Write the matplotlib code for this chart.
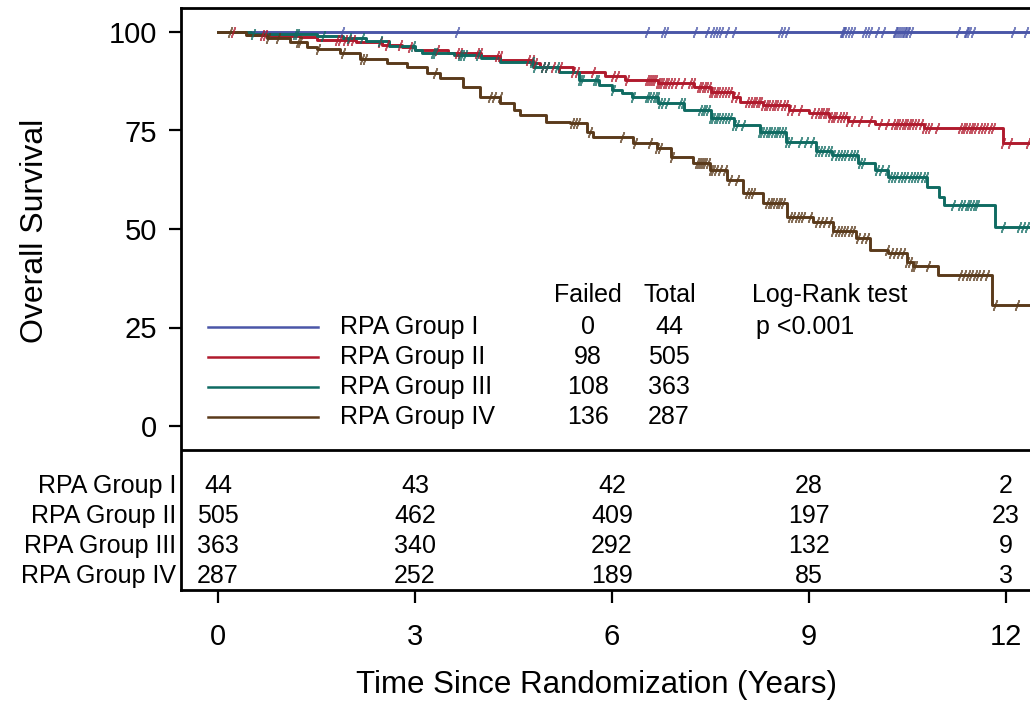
import numpy as np
import matplotlib
matplotlib.use('Agg')
import matplotlib.pyplot as plt

plt.rcParams['font.family'] = ['Liberation Sans', 'DejaVu Sans']

# ---------------- data ----------------
groups = ['RPA Group I', 'RPA Group II', 'RPA Group III', 'RPA Group IV']
colors = ['#4a56a8', '#b01a2d', '#0f6b62', '#5a3a1b']
failed = [0, 98, 108, 136]
total = [44, 505, 363, 287]
risk_times = [0, 3, 6, 9, 12]
at_risk_g1 = [44, 43, 42, 28, 2]
at_risk_g2 = [505, 462, 409, 197, 23]
at_risk_g3 = [363, 340, 292, 132, 9]
at_risk_g4 = [287, 252, 189, 85, 3]
max_followup = 12.5

g1_t = [0]
g1_s = [100]

g2_t = [0, 0.44, 0.8, 1.25, 1.5, 2.1, 2.5, 2.8, 3.0, 3.5, 4.0, 4.3, 4.8, 4.9, 5.4, 5.9,
        6.2, 6.7, 7.25, 7.5, 7.84, 7.95, 8.3, 8.7, 9.0, 9.3, 9.6, 10.0, 10.75, 11.95]
g2_s = [100, 99.3, 99.0, 98.7, 98.0, 97.5, 96.8, 96.2, 95.4, 94.7, 93.8, 92.9, 92.1, 91.1, 89.8, 88.8,
        87.8, 87.0, 86.0, 84.8, 83.6, 82.3, 81.5, 80.2, 79.5, 78.5, 77.4, 76.7, 75.6, 71.8]

g3_t = [0, 0.5, 1.5, 1.9, 2.25, 2.6, 3.0, 3.1, 3.6, 4.0, 4.3, 4.8, 5.2, 5.5, 5.8, 6.0, 6.15,
        6.3, 6.7, 7.1, 7.5, 7.85, 8.25, 8.65, 9.1, 9.35, 9.75, 10.0, 10.2, 10.8, 10.98, 11.05, 11.83]
g3_s = [100, 99.4, 99.0, 98.5, 97.6, 96.5, 95.5, 94.7, 94.2, 93.4, 92.4, 91.1, 89.8, 87.8, 86.5, 85.3, 84.5,
        83.5, 82.0, 80.2, 78.2, 76.4, 74.6, 72.1, 69.8, 68.8, 66.7, 65.0, 63.2, 60.7, 58.1, 56.1, 50.5]

g4_t = [0, 0.42, 0.75, 1.1, 1.35, 1.5, 1.86, 2.16, 2.57, 2.88, 3.18, 3.38, 3.73, 3.99, 4.3, 4.5,
        4.6, 5.0, 5.36, 5.62, 5.71, 6.32, 6.68, 6.9, 7.23, 7.49, 7.75, 8.0, 8.3, 8.66, 9.06, 9.37,
        9.72, 9.93, 10.2, 10.49, 10.58, 10.96, 11.78]
g4_s = [100, 99.2, 98.5, 97.5, 96.2, 95.7, 94.7, 93.1, 92.1, 91.1, 89.6, 88.3, 86.0, 83.5, 82.0, 80.2,
        78.9, 77.2, 76.9, 74.6, 73.3, 71.8, 70.5, 68.3, 66.7, 65.0, 62.4, 59.1, 56.6, 53.0, 51.8, 49.6,
        47.7, 44.7, 43.9, 41.6, 40.6, 38.3, 30.7]

g1_cens = [1.89, 3.64, 6.53, 6.78, 6.82, 7.26, 7.44, 7.52, 7.57, 7.62, 7.66, 7.75, 7.85, 8.56, 8.60,
           8.66, 9.50, 9.52, 9.54, 9.58, 9.62, 9.67, 9.83, 9.88, 9.93, 10.03, 10.13, 10.31, 10.33,
           10.36, 10.39, 10.41, 10.44, 10.46, 10.49, 10.51, 10.56, 11.27, 11.39, 11.41, 11.43, 11.50,
           12.11, 12.30]

g2_cens = [0.23, 0.67, 0.72, 1.81, 1.86, 1.93, 2.0, 2.06, 2.47, 2.57, 2.77, 2.92, 3.33, 3.64, 3.69,
           3.94, 3.99, 4.25, 4.29, 4.72, 4.78, 4.83, 4.95, 5.01, 5.1, 5.21, 5.41, 5.47, 5.71, 6.02,
           6.08, 6.23, 6.53, 6.56, 6.60, 6.63, 6.66, 6.70, 6.73, 6.76, 6.80, 6.84, 6.88, 6.93, 6.99,
           7.08, 7.18, 7.23, 7.33, 7.36, 7.40, 7.43, 7.47, 7.50, 7.54, 7.58, 7.62, 7.66, 7.70, 7.75,
           7.80, 7.84, 7.90, 8.06, 8.10, 8.14, 8.18, 8.22, 8.26, 8.30, 8.34, 8.38, 8.42, 8.46, 8.50,
           8.55, 8.60, 8.65, 8.70, 8.75, 8.86, 9.06, 9.12, 9.16, 9.20, 9.24, 9.28, 9.32, 9.36, 9.40,
           9.45, 9.50, 9.55, 9.60, 9.67, 9.78, 9.93, 10.08, 10.19, 10.28, 10.32, 10.36, 10.40, 10.44,
           10.48, 10.52, 10.56, 10.60, 10.65, 10.70, 10.75, 10.80, 10.84, 10.95, 11.30, 11.34, 11.38,
           11.42, 11.46, 11.50, 11.55, 11.60, 11.65, 11.70, 11.75, 11.80, 11.95, 12.06, 12.33]

g3_cens = [0.53, 1.17, 1.2, 1.6, 2.0, 2.2, 2.47, 2.97, 3.27, 3.3, 3.69, 3.72, 3.76, 3.96, 4.78, 4.83,
           4.95, 5.01, 5.16, 5.51, 5.54, 5.74, 5.77, 6.02, 6.32, 6.53, 6.57, 6.61, 6.65, 6.69, 6.73,
           6.78, 6.84, 7.03, 7.08, 7.34, 7.38, 7.42, 7.46, 7.50, 7.54, 7.58, 7.62, 7.66, 7.70, 7.75,
           7.80, 7.85, 7.90, 8.0, 8.25, 8.29, 8.33, 8.37, 8.41, 8.45, 8.49, 8.53, 8.57, 8.62, 8.66,
           8.71, 8.86, 8.95, 9.05, 9.12, 9.17, 9.22, 9.27, 9.32, 9.37, 9.42, 9.47, 9.52, 9.57, 9.62,
           9.67, 9.72, 9.77, 9.82, 10.03, 10.10, 10.18, 10.23, 10.28, 10.33, 10.38, 10.43, 10.48,
           10.53, 10.58, 10.63, 10.68, 10.73, 10.78, 11.19, 11.30, 11.35, 11.40, 11.44, 11.48, 11.52,
           11.56, 11.95, 12.2, 12.26, 12.32]

g4_cens = [0.18, 0.76, 0.91, 1.22, 1.25, 1.52, 1.9, 2.19, 2.24, 3.30, 4.14, 4.2, 4.29, 5.39, 5.44,
           5.48, 5.66, 6.15, 6.35, 6.58, 6.68, 6.73, 6.91, 7.29, 7.32, 7.35, 7.38, 7.42, 7.46, 7.50,
           7.54, 7.59, 7.65, 7.72, 7.80, 7.90, 8.06, 8.10, 8.15, 8.36, 8.40, 8.44, 8.48, 8.52, 8.56,
           8.60, 8.71, 8.76, 8.81, 8.86, 8.91, 9.01, 9.12, 9.18, 9.25, 9.32, 9.37, 9.42, 9.47, 9.52,
           9.57, 9.62, 9.67, 9.75, 9.82, 9.88, 10.19, 10.25, 10.31, 10.37, 10.43, 10.49, 10.54, 10.58,
           10.61, 10.81, 11.30, 11.36, 11.42, 11.47, 11.52, 11.58, 11.64, 11.71, 11.83, 12.17]

curves_t = [g1_t, g2_t, g3_t, g4_t]
curves_s = [g1_s, g2_s, g3_s, g4_s]
censors = [g1_cens, g2_cens, g3_cens, g4_cens]
at_risk = [at_risk_g1, at_risk_g2, at_risk_g3, at_risk_g4]

# ---------------- figure ----------------
W, H = 1030, 705
fig = plt.figure(figsize=(W / 100, H / 100), dpi=100)

def px2fig(x0, y0, x1, y1):
    return [x0 / W, 1 - y1 / H, (x1 - x0) / W, (y1 - y0) / H]

ax = fig.add_axes(px2fig(181, 8, 1030, 590))
px_per_year = 65.67
x_left = -(218 - 181) / px_per_year
x_right = (1030 - 218) / px_per_year
px_per_unit = 3.94
y_top = 100 + (32 - 8) / px_per_unit
y_bot = -(590 - 426) / px_per_unit
ax.set_xlim(x_left, x_right)
ax.set_ylim(y_bot, y_top)

tick_marker = (2, 2, -20)
for t, s, c, col in zip(curves_t, curves_s, censors, colors):
    tt = np.array(t + [max_followup])
    ss = np.array(s + [s[-1]])
    ax.step(tt, ss, where='post', color=col, lw=2.1, zorder=3)
    c = np.array(c)
    idx = np.searchsorted(np.array(t), c, side='right') - 1
    ax.plot(c, np.array(s)[idx], linestyle='none', marker=tick_marker, markersize=8,
            markeredgewidth=1.1, color=col, alpha=0.75, zorder=4)

# spines
for side in ['left', 'top', 'bottom']:
    ax.spines[side].set_linewidth(2.0)
ax.spines['right'].set_visible(False)
ax.axhline(-(450 - 426) / px_per_unit, color='black', lw=2.0, zorder=5)

ax.set_yticks([0, 25, 50, 75, 100])
ax.set_yticklabels(['0', '25', '50', '75', '100'])
ax.set_xticks(risk_times)
ax.set_xticklabels([str(v) for v in risk_times])
ax.tick_params(axis='y', direction='out', length=9, width=1.6, labelsize=21, pad=8)
ax.tick_params(axis='x', direction='out', length=9, width=1.6, labelsize=21, pad=15)

fig.text(35 / W, 1 - 231 / H, 'Overall Survival', rotation=90, ha='center', va='center', fontsize=23)
fig.text(597 / W, 1 - 685 / H, 'Time Since Randomization (Years)', ha='center', va='center', fontsize=22.5)

def dx(px):
    return (px - 218) / px_per_year

def dy(py):
    return (426 - py) / px_per_unit

fs = 18
# legend block
leg_rows = [327, 357, 387, 417]
ax.text(dx(588), dy(295), 'Failed', ha='center', va='center', fontsize=fs)
ax.text(dx(670), dy(295), 'Total', ha='center', va='center', fontsize=fs)
ax.text(dx(752), dy(295), 'Log-Rank test', ha='left', va='center', fontsize=fs)
ax.text(dx(756), dy(327), 'p <0.001', ha='left', va='center', fontsize=fs)
for g, col, f, n, ry in zip(groups, colors, failed, total, leg_rows):
    ax.plot([dx(208), dx(318)], [dy(ry), dy(ry)], color=col, lw=1.8)
    ax.text(dx(340), dy(ry), g, ha='left', va='center', fontsize=fs)
    ax.text(dx(588), dy(ry), str(f), ha='center', va='center', fontsize=fs)
    ax.text(dx(669), dy(ry), str(n), ha='center', va='center', fontsize=fs)

# number at risk table
table_rows = [486, 516, 546, 576]
for g, ar, ry in zip(groups, at_risk, table_rows):
    ax.text(dx(176), dy(ry), g, ha='right', va='center', fontsize=fs, clip_on=False)
    for tm, v in zip(risk_times, ar):
        ax.text(tm, dy(ry), str(v), ha='center', va='center', fontsize=fs)

fig.savefig('out.png', dpi=100)
